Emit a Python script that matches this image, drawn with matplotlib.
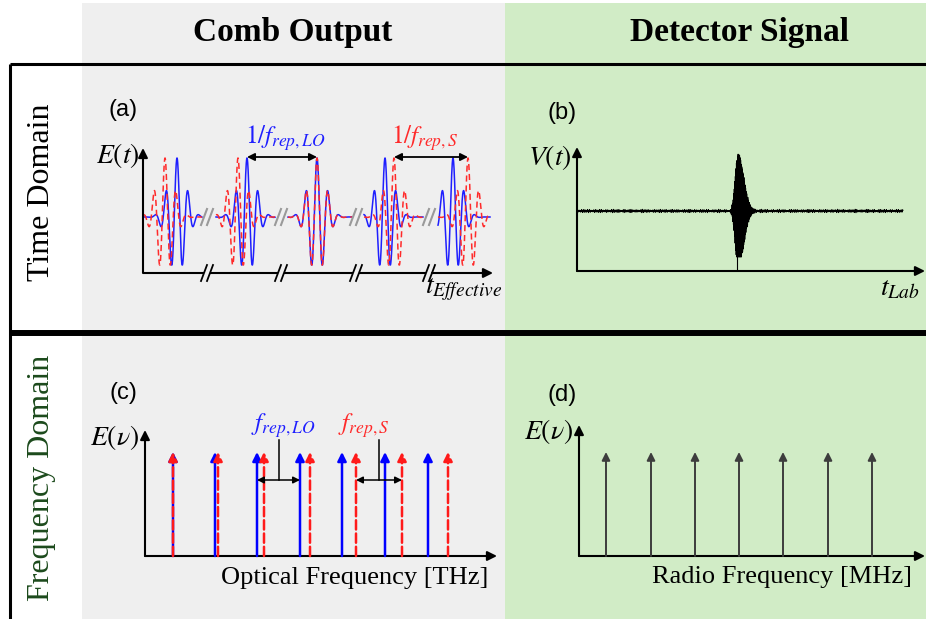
"""
Dual-comb schematic: comb output vs detector signal, time and frequency domain
"""
import numpy as np
import matplotlib.pyplot as plt
from matplotlib.patches import Rectangle

plt.rcParams['font.family'] = 'Liberation Serif'
plt.rcParams['mathtext.fontset'] = 'stix'

W, H = 926, 619
GRAY = '#efefef'
GREEN = '#d1ecc6'
BLUE = '#1f1fff'
RED = '#ff2a2a'
DARK = '#3d3d3d'

col_titles = ['Comb Output', 'Detector Signal']
row_titles = ['Time Domain', 'Frequency Domain']

# (a) pulse trains on a broken time axis (units ~ px)
seg_start = [0, 72, 144, 220, 294]
seg_end = [59, 132, 209, 280, 347]
axis_breaks = [64, 138, 213, 286]
lo_pulses = [34, 104, 174, 242, 310]
s_pulses = [22, 95, 174, 251, 325]
pulse_period = 11
pulse_width = 8.5
pulse_amp = 59

# (b) interferogram burst
burst_center = 161
burst_amp = 58
noise_end = 326

# (c) optical comb lines
lo_comb = [28, 70, 112, 155, 197, 240, 283]
s_comb = [28, 73, 119, 165, 211, 257, 303]
comb_height = 104

# (d) RF comb lines
rf_comb = [27, 72, 116, 160, 204, 249, 293]
rf_height = 104

fig = plt.figure(figsize=(W / 100, H / 100), dpi=100)
bg = fig.add_axes([0, 0, 1, 1])
bg.set_xlim(0, W)
bg.set_ylim(H, 0)
bg.axis('off')

# backgrounds and frame
bg.add_patch(Rectangle((82, 3), 423, H, color=GRAY, lw=0))
bg.add_patch(Rectangle((505, 3), W - 505, H, color=GREEN, lw=0))
bg.plot([10, W], [64, 64], color='k', lw=2.2, solid_capstyle='butt')
bg.plot([10, 10], [64, H], color='k', lw=2.2, solid_capstyle='butt')
bg.plot([10, W], [333, 333], color='k', lw=4.3, solid_capstyle='butt')

bg.text(293, 33, col_titles[0], fontsize=24, fontweight='bold', ha='center', va='center')
bg.text(740, 33, col_titles[1], fontsize=24, fontweight='bold', ha='center', va='center')
bg.text(42, 192, row_titles[0], fontsize=23, rotation=90, ha='center', va='center')
bg.text(42, 478, row_titles[1], fontsize=23, rotation=90, ha='center', va='center',
        color='#1c4a1c')

for lab, (x, y) in zip(['(a)', '(b)', '(c)', '(d)'],
                       [(123, 110), (562, 113), (123, 393), (562, 395)]):
    bg.text(x, y, lab, fontsize=17, family='Liberation Sans', ha='center', va='center')


def panel_axes(x0, ytop, x1, y0):
    ax = fig.add_axes([x0 / W, 1 - y0 / H, (x1 - x0) / W, (y0 - ytop) / H])
    ax.set_xlim(0, x1 - x0)
    ax.patch.set_alpha(0)
    ax.axis('off')
    return ax


arrow_kw = dict(arrowstyle='-|>', color='k', lw=1.5, mutation_scale=14, shrinkA=0, shrinkB=0)


def axis_arrows(ax, xaxis=True):
    ax.annotate('', xy=(0, 1), xytext=(0, 0), xycoords='axes fraction', arrowprops=arrow_kw)
    if xaxis:
        ax.annotate('', xy=(1, 0), xytext=(0, 0), xycoords='axes fraction', arrowprops=arrow_kw)


def pulses(t, centers):
    y = np.zeros_like(t)
    for c in centers:
        y += pulse_amp * np.exp(-0.5 * ((t - c) / pulse_width) ** 2) * np.cos(2 * np.pi * (t - c) / pulse_period)
    return np.clip(y, -48, 60)


# ---- (a) time domain comb output
ax = panel_axes(143, 148, 493, 273)
ax.set_ylim(-56, 69)
axis_arrows(ax, xaxis=False)
for s, e in zip(seg_start, seg_end):
    t = np.linspace(s + 1, e, 500)
    ax.plot(t, pulses(t, lo_pulses), color=BLUE, lw=1.1)
    ax.plot(t, pulses(t, s_pulses), color=RED, lw=1.1, ls=(0, (4, 2.5)))
ybot = -56
edges = [0] + [v for b in axis_breaks for v in (b - 3, b + 3)]
for a, b in zip(edges[0::2], edges[1::2]):
    ax.plot([a, b], [ybot, ybot], color='k', lw=1.5, clip_on=False, solid_capstyle='butt')
ax.annotate('', xy=(350, ybot), xytext=(axis_breaks[-1] + 3, ybot), arrowprops=arrow_kw,
            annotation_clip=False)
for b in axis_breaks:
    for dx in (-3, 3):
        ax.plot([b + dx - 3, b + dx + 3], [ybot - 8, ybot + 8], color='k', lw=1.3, clip_on=False)
        ax.plot([b + dx - 3, b + dx + 3], [-8, 8], color='#9a9a9a', lw=1.5)
ax.annotate('', xy=(lo_pulses[1], 60), xytext=(lo_pulses[2], 60),
            arrowprops=dict(arrowstyle='<|-|>', color='k', lw=1.3, mutation_scale=11, shrinkA=0, shrinkB=0))
ax.annotate('', xy=(s_pulses[3], 60), xytext=(s_pulses[4], 60),
            arrowprops=dict(arrowstyle='<|-|>', color='k', lw=1.3, mutation_scale=11, shrinkA=0, shrinkB=0))
bg.text(285, 138, r'$\mathit{1/f}_{\mathit{rep,LO}}$', fontsize=18, color=BLUE, ha='center', va='center')
bg.text(425, 138, r'$\mathit{1/f}_{\mathit{rep,S}}$', fontsize=18, color=RED, ha='center', va='center')
bg.text(140, 156, r'$\mathit{E(t)}$', fontsize=20, ha='right', va='center')
bg.text(425, 290, r'$\mathit{t}_{\mathit{Effective}}$', fontsize=20, ha='left', va='center')

# ---- (b) detector interferogram
ax = panel_axes(577, 147, 925, 271)
ax.set_ylim(-60, 64)
axis_arrows(ax)
x = np.linspace(0, noise_end, 6000)
noise = (0.9 * np.sin(3.7 * x) * np.cos(0.53 * x) + 0.6 * np.sin(11.3 * x + 0.4)
         + 0.5 * np.sin(17.9 * x) * np.sin(0.21 * x))
env = np.where(x < burst_center, np.exp(-((x - burst_center) / 4.0) ** 2),
               np.exp(-((x - burst_center) / 8.0) ** 2))
sig = noise + burst_amp * env * np.cos(2 * np.pi * (x - burst_center) / 0.55)
ax.plot(x, np.clip(sig, -46, 60), color='k', lw=0.6)
ax.plot([burst_center - 1, burst_center - 1], [-60, -40], color='k', lw=0.8)
bg.text(572, 157, r'$\mathit{V(t)}$', fontsize=20, ha='right', va='center')
bg.text(880, 289, r'$\mathit{t}_{\mathit{Lab}}$', fontsize=20, ha='left', va='center')

# ---- (c) optical frequency combs
ax = panel_axes(145, 430, 497, 556)
ax.set_ylim(0, 126)
axis_arrows(ax)
for xv in lo_comb:
    ax.annotate('', xy=(xv, comb_height), xytext=(xv, 0),
                arrowprops=dict(arrowstyle='-|>', color='#0000ff', lw=1.8, mutation_scale=13,
                                shrinkA=0, shrinkB=0))
for xv in s_comb:
    ax.annotate('', xy=(xv, comb_height), xytext=(xv, 0),
                arrowprops=dict(arrowstyle='-|>', color='#ff1a1a', lw=1.8, ls='--', mutation_scale=13,
                                shrinkA=0, shrinkB=0))
for (a, b) in [(lo_comb[2], lo_comb[3]), (s_comb[4], s_comb[5])]:
    ax.annotate('', xy=(a, 76), xytext=(b, 76),
                arrowprops=dict(arrowstyle='<|-|>', color='k', lw=1.1, mutation_scale=10, shrinkA=0, shrinkB=0))
    ax.plot([(a + b) / 2, (a + b) / 2], [76, 116], color='k', lw=1.1)
bg.text(283, 426, r'$\mathit{f}_{\mathit{rep,LO}}$', fontsize=18, color=BLUE, ha='center', va='center')
bg.text(364, 426, r'$\mathit{f}_{\mathit{rep,S}}$', fontsize=18, color=RED, ha='center', va='center')
bg.text(139, 437, r'$\mathit{E}(\nu)$', fontsize=20, ha='right', va='center')
bg.text(355, 578, 'Optical Frequency [THz]', fontsize=19, ha='center', va='center')

# ---- (d) RF comb
ax = panel_axes(579, 425, 925, 556)
ax.set_ylim(0, 131)
axis_arrows(ax)
for xv in rf_comb:
    ax.annotate('', xy=(xv, rf_height), xytext=(xv, 0),
                arrowprops=dict(arrowstyle='-|>', color=DARK, lw=1.4, mutation_scale=12, shrinkA=0, shrinkB=0))
bg.text(573, 432, r'$\mathit{E}(\nu)$', fontsize=20, ha='right', va='center')
bg.text(782, 577, 'Radio Frequency [MHz]', fontsize=19, ha='center', va='center')

fig.savefig('out.png', dpi=100)
